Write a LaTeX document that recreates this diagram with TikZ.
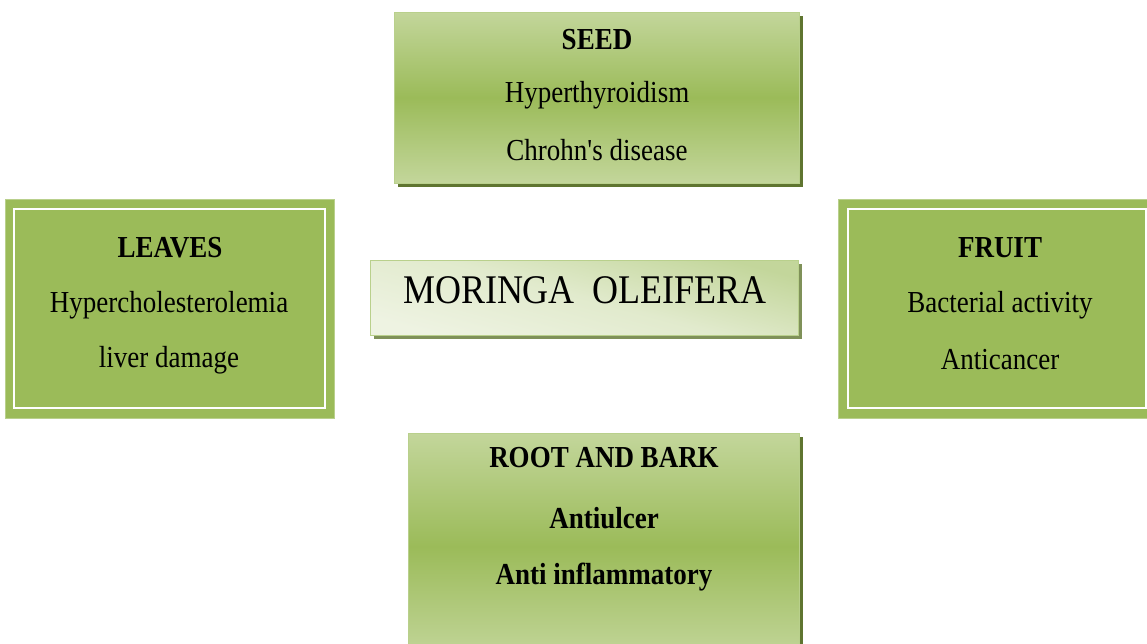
\documentclass[tikz,border=0pt]{standalone}
\usepackage{fontspec}
\setmainfont{Liberation Serif}
\usetikzlibrary{shadows}
\definecolor{gmid}{RGB}{155,187,89}
\definecolor{glight}{RGB}{195,214,155}
\definecolor{gpale}{RGB}{238,243,226}
\definecolor{gshadow}{RGB}{95,117,48}
\definecolor{gborder}{RGB}{185,208,140}
\newcommand{\tallt}[1]{\scalebox{1}[1.13]{#1}}
\begin{document}
\begin{tikzpicture}[x=1pt,y=-1pt,
  txt/.style={font=\fontsize{27}{32}\selectfont, text=black, inner sep=0pt, anchor=center},
  btxt/.style={txt, font=\fontsize{27}{32}\selectfont\bfseries},
  gradbox/.style={draw=gborder, line width=1pt, top color=glight, bottom color=glight, middle color=gmid,
     drop shadow={shadow xshift=3.5pt, shadow yshift=-3.5pt, fill=gshadow, opacity=1}},
  flatbox/.style={draw=gborder, line width=0.8pt, fill=gmid},
  innerline/.style={draw=white, line width=2.6pt}
]
\useasboundingbox (0,0) rectangle (1147,643);
\clip (0,0) rectangle (1147,643);
\fill[white] (0,0) rectangle (1147,643);

% SEED
\path[gradbox] (394,12) rectangle (799,183);
\node[btxt] (seedt) at (597,40) {\tallt{SEED}};
\node[txt] (seed1) at (597,95) {\tallt{Hyperthyroidism}};
\node[txt] (seed2) at (597,150) {\tallt{Chrohn\textquotesingle s disease}};

% LEAVES
\path[flatbox] (5,199) rectangle (334,418);
\path[innerline] (14,209) rectangle (325,408);
\node[btxt] (leavest) at (170,248) {\tallt{LEAVES}};
\node[txt] (leaves1) at (169,305) {\tallt{Hypercholesterolemia}};
\node[txt] (leaves2) at (169,360) {\tallt{liver damage}};

% FRUIT
\path[flatbox] (838,199) rectangle (1170,418);
\path[innerline] (848,209) rectangle (1146,408);
\node[btxt] (fruitt) at (1000,248) {\tallt{FRUIT}};
\node[txt] (fruit1) at (1000,305) {\tallt{Bacterial activity}};
\node[txt] (fruit2) at (1000,360) {\tallt{Anticancer}};

% CENTER
\path[draw=gborder, line width=0.8pt, shading=axis, top color=glight, bottom color=gpale, middle color=gpale!70!glight, shading angle=-15,
     drop shadow={shadow xshift=3.5pt, shadow yshift=-3.5pt, fill=gshadow!80!white, opacity=1}]
  (370,260) rectangle (798,335);
\node[txt, font=\fontsize{36}{40}\selectfont] (mo) at (585,290) {\tallt{MORINGA\ \ OLEIFERA}};

% ROOT AND BARK
\path[gradbox] (408,433) rectangle (799,660);
\node[btxt] (roott) at (604,458) {\tallt{ROOT AND BARK}};
\node[btxt] (root1) at (604,518) {\tallt{Antiulcer}};
\node[btxt] (root2) at (604,577) {\tallt{Anti inflammatory}};
\end{tikzpicture}
\end{document}
